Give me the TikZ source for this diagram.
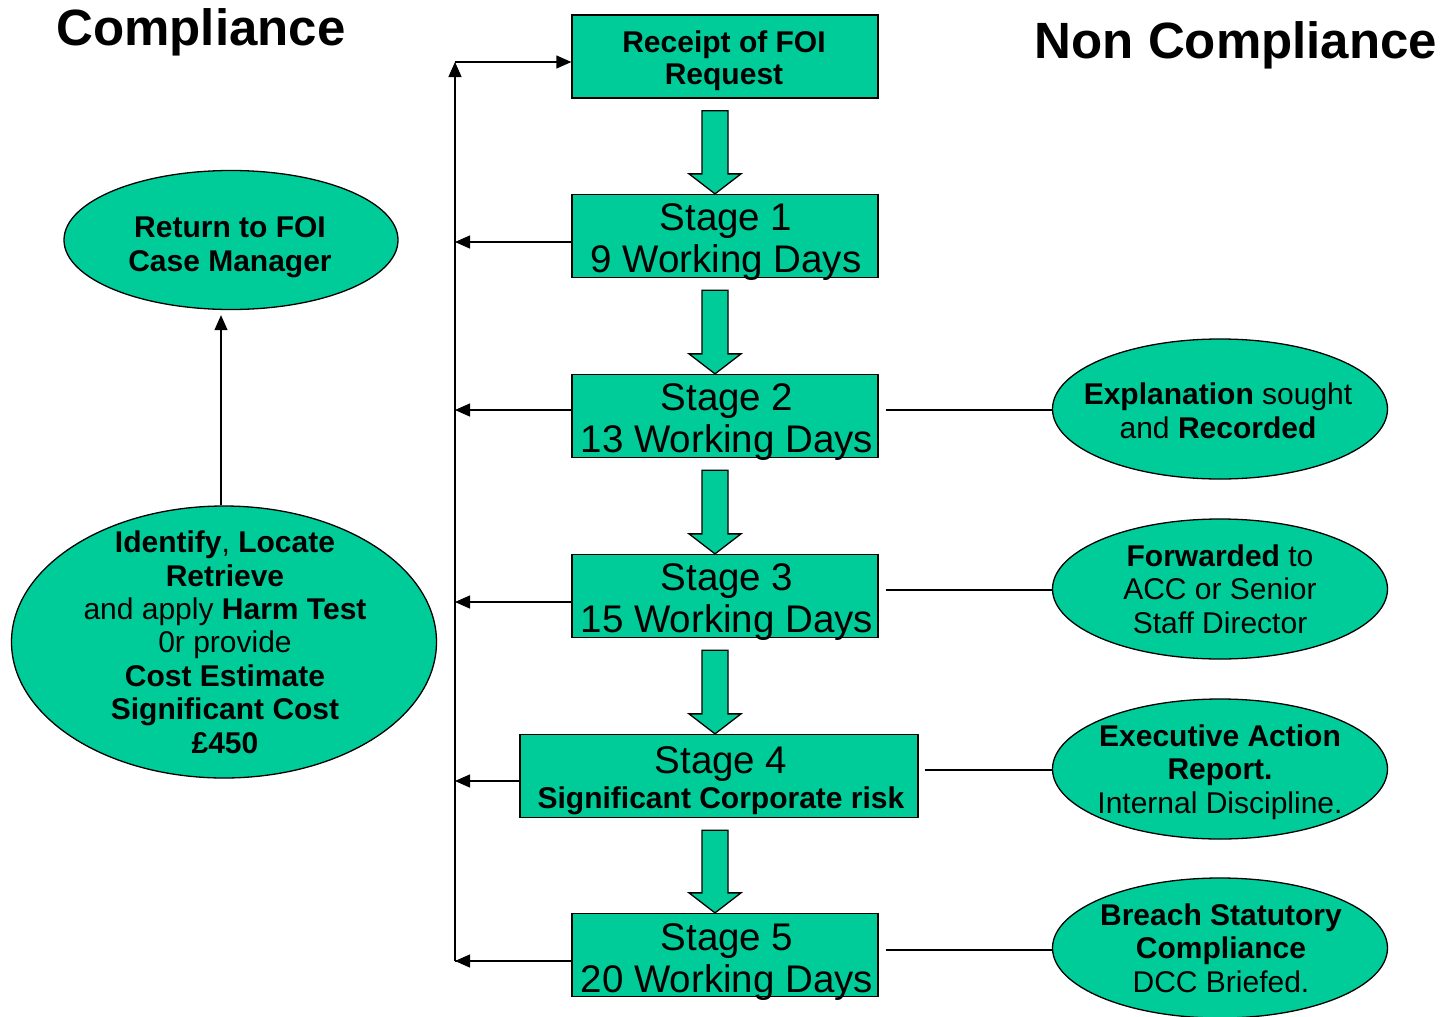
\documentclass[tikz,border=0pt]{standalone}
\usepackage{fontspec}
\setmainfont{Liberation Sans}
\usetikzlibrary{arrows.meta,shapes.geometric,calc}
\definecolor{foigreen}{RGB}{0,204,153}
\begin{document}
\begin{tikzpicture}[x=1pt,y=-1pt,
 stagebox/.style={draw=black,fill=foigreen,line width=1.3pt,inner sep=0pt,minimum height=83pt},
 oval/.style={ellipse,draw=black,fill=foigreen,line width=1.3pt,inner sep=0pt},
 arr/.style={line width=1.3pt,-{Triangle[length=15pt,width=13pt]}},
 plain/.style={line width=1.3pt},
 blockarr/.style={draw=black,fill=foigreen,line width=1.3pt,line join=miter},
 bigtxt/.style={font=\fontsize{38.5}{42}\selectfont,align=center,anchor=base,inner sep=0pt},
 medtxt/.style={font=\fontsize{30}{33.5}\selectfont,align=center,anchor=base,inner sep=0pt},
 titletxt/.style={font=\fontsize{51}{51}\selectfont\bfseries,anchor=base,inner sep=0pt}
]
\useasboundingbox (0,0) rectangle (1448,1017);

% titles
\node[titletxt] (tc) at (201,45) {Compliance};
\node[titletxt] (tnc) at (1236,58) {Non Compliance};

% central boxes
\node[stagebox,minimum width=306pt] (r)  at (725,56.5) {};
\node[stagebox,minimum width=306pt] (s1) at (725,236) {};
\node[stagebox,minimum width=306pt] (s2) at (725,416) {};
\node[stagebox,minimum width=306pt] (s3) at (725,596) {};
\node[stagebox,minimum width=398pt] (s4) at (719,776) {};
\node[stagebox,minimum width=306pt] (s5) at (725,955) {};

% block arrows
\foreach \a/\b in {r/s1,s1/s2,s2/s3,s3/s4,s4/s5}{
  \draw[blockarr] let \p1=(\a.south), \p2=(\b.north) in
    (702pt,\y1-12pt) -- (728pt,\y1-12pt) -- (728pt,\y2+20pt) -- (741pt,\y2+20pt)
    -- (715pt,\y2) -- (689pt,\y2+20pt) -- (702pt,\y2+20pt) -- cycle;
}

% texts of boxes (base anchor = baseline of last line)
\node[medtxt,font=\fontsize{30}{32}\selectfont\bfseries] (tr) at (724,84) {Receipt of FOI\\Request};
\node[bigtxt] (t1) at (726,272) {Stage 1\\9 Working Days};
\node[bigtxt] (t2) at (727,452) {Stage 2\\13 Working Days};
\node[bigtxt] (t3) at (727,632) {Stage 3\\15 Working Days};
\node[bigtxt,font=\fontsize{38.5}{35}\selectfont] (t4) at (721,808) {Stage 4\\\fontsize{30}{35}\selectfont\bfseries Significant Corporate risk};
\node[bigtxt] (t5) at (727,992) {Stage 5\\20 Working Days};

% left feedback loop
\coordinate (vtop) at (455,62);
\coordinate (vbot) at (455,961);
\draw[plain] ([yshift=-6pt]s5.west) -- (vbot);
\draw[arr] (vbot) -- (vtop);
\draw[arr] (vtop) -- (vtop -| r.west);
\draw[arr] ([yshift=-6pt]s1.west) -- ([yshift=-6pt]s1.west -| vtop);
\draw[arr] ([yshift=6pt]s2.west) -- ([yshift=6pt]s2.west -| vtop);
\draw[arr] ([yshift=-6pt]s3.west) -- ([yshift=-6pt]s3.west -| vtop);
\draw[arr] ([yshift=-5pt]s4.west) -- ([yshift=-5pt]s4.west -| vtop);
\draw[arr] ([yshift=-6pt]s5.west) -- ([yshift=-6pt]s5.west -| vtop);

% left ellipses
\node[oval,minimum width=334pt,minimum height=139pt] (ret) at (231,240) {};
\node[medtxt,font=\fontsize{30}{34}\selectfont\bfseries] (tret) at (230,271) {Return to FOI\\Case Manager};
\node[oval,minimum width=425pt,minimum height=272pt] (idf) at (224,642) {};
\node[medtxt,font=\fontsize{30}{33.4}\selectfont] (tidf) at (225,753) {\textbf{Identify}, \textbf{Locate}\\\textbf{Retrieve}\\and apply \textbf{Harm Test}\\0r provide\\\textbf{Cost Estimate}\\\textbf{Significant Cost}\\\textbf{\pounds450}};
\draw[arr] ([xshift=-3pt]idf.north) -- ([xshift=-3pt,yshift=-5pt]idf.north |- ret.south);

% right ellipses
\node[oval,minimum width=335pt,minimum height=140pt] (e2) at (1220,409) {};
\node[oval,minimum width=335pt,minimum height=140pt] (e3) at (1220,589) {};
\node[oval,minimum width=335pt,minimum height=140pt] (e4) at (1220,769) {};
\node[oval,minimum width=335pt,minimum height=140pt] (e5) at (1220,948) {};

\node[medtxt] (te2) at (1218,438) {\textbf{Explanation} sought\\and \textbf{Recorded}};
\node[medtxt] (te3) at (1220,633) {\textbf{Forwarded} to\\ACC or Senior\\Staff Director};
\node[medtxt] (te4) at (1220,813) {\textbf{Executive Action}\\\textbf{Report.}\\Internal Discipline.};
\node[medtxt] (te5) at (1221,992) {\textbf{Breach Statutory}\\\textbf{Compliance}\\DCC Briefed.};

\draw[plain] ([xshift=7pt,yshift=6pt]s2.east) -- ([yshift=6pt]s2.east -| e2.west);
\draw[plain] ([xshift=7pt,yshift=6pt]s3.east) -- ([yshift=6pt]s3.east -| e3.west);
\draw[plain] ([xshift=6pt,yshift=6pt]s4.east) -- ([yshift=6pt]s4.east -| e4.west);
\draw[plain] ([xshift=7pt,yshift=5pt]s5.east) -- ([yshift=5pt]s5.east -| e5.west);
\end{tikzpicture}
\end{document}
